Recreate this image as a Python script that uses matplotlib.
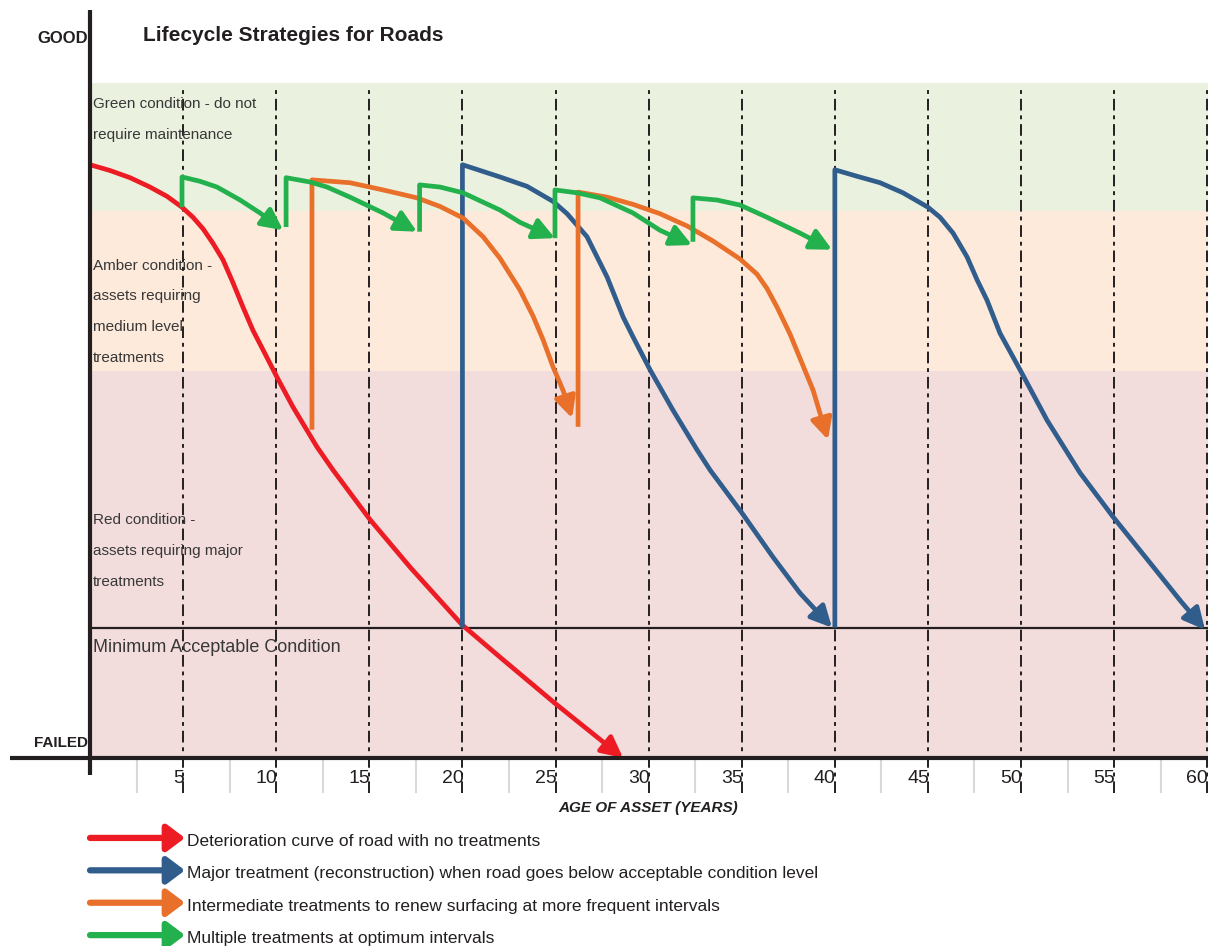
import matplotlib.pyplot as plt
from matplotlib.patches import Rectangle

plt.rcParams['font.family'] = ['Liberation Sans Narrow', 'Liberation Sans', 'DejaVu Sans']

# condition scale: 0 = FAILED, 100 = GOOD ; x = age in years
green_band = (76.0, 93.8)
amber_band = (53.8, 76.0)
red_band = (0.0, 53.8)
min_condition = 18.1

# no treatment (red)
red_x = [0, 1.07, 2.15, 3.22, 4.14, 4.94, 5.53, 6.07, 6.6, 7.14, 7.68, 8.22, 8.75, 9.29, 10.04, 10.9, 12.19,
         13.05, 15.04, 17.19, 19.98, 22.02, 24.97, 28.63]
red_y = [82.4, 81.6, 80.6, 79.3, 78.0, 76.5, 75.1, 73.5, 71.5, 69.2, 66.0, 62.6, 59.4, 56.7, 52.9, 48.75, 43.2,
         40.0, 33.1, 26.5, 18.5, 14.0, 7.6, 0.0]

# major treatment (blue)
blue1_x = [20.0, 20.0, 22.02, 23.47, 24.87, 25.62, 26.69, 27.77, 28.63, 29.16, 30.08, 31.31, 32.6,
           33.3, 35.02, 36.68, 38.13, 39.85]
blue1_y = [18.1, 82.4, 80.7, 79.4, 77.3, 75.6, 72.4, 66.8, 61.25, 58.5, 53.9, 48.3, 42.8,
           40.0, 34.0, 27.9, 22.9, 18.1]
blue2_x = [40.0, 40.0, 41.19, 42.43, 43.66, 45.0, 45.65, 46.35, 47.1, 47.64, 48.17, 48.87, 49.95, 51.4,
           53.17, 54.94, 56.93, 58.54, 59.88]
blue2_y = [18.1, 81.7, 80.8, 79.9, 78.5, 76.5, 75.1, 72.9, 69.6, 66.4, 63.6, 59.0, 53.9, 46.9,
           39.6, 33.5, 27.1, 21.9, 17.8]

# intermediate treatments (orange)
orange1_x = [11.92, 11.92, 13.96, 15.74, 17.56, 18.8, 20.03, 21.11, 22.02, 23.09, 23.79, 24.33, 24.87,
             25.4, 25.89]
orange1_y = [45.6, 80.3, 79.9, 78.9, 77.8, 76.6, 75.0, 72.4, 69.4, 65.0, 61.4, 58.1, 54.3, 51.1, 47.2]
orange2_x = [26.21, 26.21, 27.77, 29.16, 30.61, 32.06, 33.46, 34.91, 35.82, 36.36, 36.9, 37.59, 38.13,
             38.83, 39.63]
orange2_y = [46.0, 78.6, 77.9, 76.9, 75.6, 73.9, 71.8, 69.3, 67.2, 65.2, 62.6, 58.9, 55.5, 51.1, 44.2]

# multiple treatments (green)
green1_x = [4.94, 4.94, 5.91, 6.82, 8.06, 9.13, 10.37]
green1_y = [76.5, 80.7, 80.1, 79.3, 77.5, 75.7, 73.3]
green2_x = [10.53, 10.53, 11.82, 12.73, 13.96, 15.74, 17.56]
green2_y = [73.75, 80.6, 80.0, 79.3, 77.9, 75.7, 73.1]
green3_x = [17.7, 17.7, 18.8, 20.03, 22.02, 23.09, 24.97]
green3_y = [73.1, 79.6, 79.3, 78.5, 76.1, 74.4, 72.2]
green4_x = [24.97, 24.97, 26.15, 27.39, 29.16, 30.61, 32.33]
green4_y = [72.2, 78.9, 78.5, 77.8, 75.7, 73.3, 71.25]
green5_x = [32.38, 32.38, 33.67, 34.91, 36.36, 38.13, 39.85]
green5_y = [71.7, 77.8, 77.5, 76.8, 75.1, 72.9, 70.6]

year_ticks = [5, 10, 15, 20, 25, 30, 35, 40, 45, 50, 55, 60]
minor_ticks = [2.5, 7.5, 12.5, 17.5, 22.5, 27.5, 32.5, 37.5, 42.5, 47.5, 52.5, 57.5]

legend_labels = ["Deterioration curve of road with no treatments",
                 "Major treatment (reconstruction) when road goes below acceptable condition level",
                 "Intermediate treatments to renew surfacing at more frequent intervals",
                 "Multiple treatments at optimum intervals"]

RED = '#ed1c24'
BLUE = '#305d8c'
ORANGE = '#e8702a'
GREEN = '#22b14c'
DARK = '#231f20'
TXT = '#383838'

fig = plt.figure(figsize=(12.08, 9.46), dpi=100)
ax = fig.add_axes([0, 0, 1, 1])
ax.set_xlim(-4.834, 60.04)
ax.set_ylim(-26.11, 105.28)
ax.axis('off')

# bands
for (lo, hi), c in [(green_band, '#ebf1df'), (amber_band, '#fdeadb'), (red_band, '#f2dcdc')]:
    ax.add_patch(Rectangle((0, lo), 60.04, hi - lo, facecolor=c, edgecolor='none', zorder=0))

# dashed verticals and ticks
for t in year_ticks:
    ax.plot([t, t], [-4.86, 93.1], color=DARK, lw=1.4, linestyle=(0, (6, 2.5, 2, 2.5)), zorder=1)
    ax.text(t + 0.05, -2.9, str(t), ha='right', va='center', fontsize=14, color=DARK)
for t in minor_ticks:
    ax.plot([t, t], [-0.3, -4.7], color='#d9d9d9', lw=1.5, zorder=1)

# axes lines
ax.plot([0, 0], [103.9, -2.36], color=DARK, lw=3, zorder=5, solid_capstyle='butt')
ax.plot([-4.3, 60.04], [0, 0], color=DARK, lw=3, zorder=5, solid_capstyle='butt')
ax.plot([0, 60.04], [min_condition, min_condition], color=DARK, lw=1.6, zorder=2)


def draw_curve(xs, ys, color, lw=3.4):
    ax.plot(xs[:-1], ys[:-1], color=color, lw=lw, solid_joinstyle='round',
            solid_capstyle='butt', zorder=4)
    ax.annotate('', xy=(xs[-1], ys[-1]), xytext=(xs[-2], ys[-2]),
                arrowprops=dict(arrowstyle='-|>,head_length=0.8,head_width=0.4', mutation_scale=16,
                                color=color, lw=lw, shrinkA=0, shrinkB=0), zorder=4)


draw_curve(red_x, red_y, RED)
draw_curve(blue1_x, blue1_y, BLUE)
draw_curve(blue2_x, blue2_y, BLUE)
draw_curve(orange1_x, orange1_y, ORANGE)
draw_curve(orange2_x, orange2_y, ORANGE)
for gx, gy in [(green1_x, green1_y), (green2_x, green2_y), (green3_x, green3_y),
               (green4_x, green4_y), (green5_x, green5_y)]:
    draw_curve(gx, gy, GREEN)

# texts
ax.text(2.85, 100.4, "Lifecycle Strategies for Roads", fontsize=15, fontweight='bold', color=DARK,
        ha='left', va='center')
ax.text(-0.1, 100.0, "GOOD", fontsize=12, fontweight='bold', color=DARK, ha='right', va='center')
ax.text(-0.1, 2.1, "FAILED", fontsize=11, fontweight='bold', color=DARK, ha='right', va='center')

band_text = [("Green condition - do not", 90.9), ("require maintenance", 86.5),
             ("Amber condition -", 68.4), ("assets requiring", 64.2), ("medium level", 59.9),
             ("treatments", 55.6),
             ("Red condition -", 33.0), ("assets requiring major", 28.8), ("treatments", 24.4)]
for s, yy in band_text:
    ax.text(0.16, yy, s, fontsize=11, color=TXT, ha='left', va='center')
ax.text(0.16, 15.4, "Minimum Acceptable Condition", fontsize=13, color=TXT, ha='left', va='center')

ax.text(29.97, -6.9, "AGE OF ASSET (YEARS)", fontsize=11, fontweight='bold', style='italic',
        color=DARK, ha='center', va='center')

# legend
leg_y = [-11.1, -15.6, -20.1, -24.6]
for yy, c, lab in zip(leg_y, [RED, BLUE, ORANGE, GREEN], legend_labels):
    ax.annotate('', xy=(5.1, yy), xytext=(0, yy),
                arrowprops=dict(arrowstyle='-|>,head_length=0.6,head_width=0.45', mutation_scale=18,
                                color=c, lw=4.5, shrinkA=0, shrinkB=0))
    ax.text(5.2, yy - 0.5, lab, fontsize=12.5, color=DARK, ha='left', va='center')

fig.savefig('out.png', dpi=100)
